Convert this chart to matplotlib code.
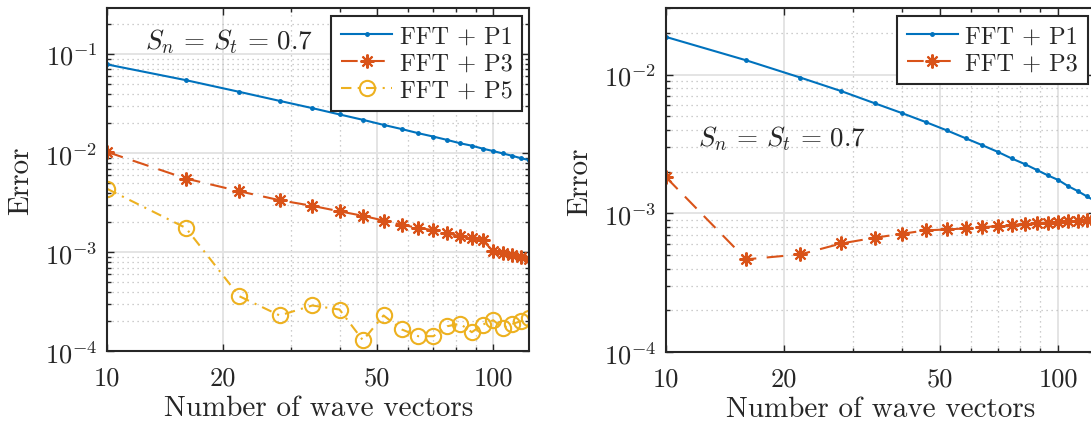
import math
import matplotlib
matplotlib.use('Agg')
import matplotlib.pyplot as plt
from matplotlib.ticker import FixedLocator, LogLocator, NullFormatter, FuncFormatter

# Données
n_waves = [10, 16, 22, 28, 34, 40, 46, 52, 58, 64, 70, 76, 82, 88, 94, 100, 106, 112, 118, 124]

left_p1 = [0.0787, 0.0546, 0.0416, 0.0337, 0.0285, 0.0246, 0.0217, 0.0193, 0.0175, 0.0159,
           0.0147, 0.0136, 0.0126, 0.0119, 0.0111, 0.0105, 0.00993, 0.0094, 0.0089, 0.0085]
left_p3 = [0.0103, 0.00555, 0.00413, 0.00335, 0.00294, 0.00259, 0.00233, 0.00209, 0.00189, 0.00176,
           0.00167, 0.00156, 0.00145, 0.00138, 0.00132, 0.00102, 0.00098, 0.00093, 0.00090, 0.00086]
left_p5 = [0.00437, 0.00176, 0.00036, 0.00023, 0.00029, 0.000264, 0.000129, 0.00023, 0.000166, 0.000142,
           0.000142, 0.000179, 0.00019, 0.000156, 0.000186, 0.000206, 0.000172, 0.000189, 0.000201, 0.000217]

right_p1 = [0.01866, 0.01267, 0.00951, 0.00759, 0.00622, 0.00527, 0.00454, 0.00396, 0.00348, 0.0031,
            0.00278, 0.00249, 0.00227, 0.00206, 0.00188, 0.00174, 0.00157, 0.00145, 0.00133, 0.00123]
right_p3 = [0.001824, 0.000467, 0.000507, 0.000608, 0.000668, 0.000714, 0.000755, 0.000767, 0.00078, 0.000796,
            0.00081, 0.000824, 0.000843, 0.000851, 0.00086, 0.00087, 0.000875, 0.00088, 0.00089, 0.0009]

x_ticks = [10, 20, 50, 100]
labels = ['FFT + P1', 'FFT + P3', 'FFT + P5']
note = r'$S_n \,=\, S_t \,=\, 0.7$'

# Couleurs style MATLAB
blue, orange, yellow = '#0072BD', '#D95319', '#EDB120'
dark = '#262626'

plt.rcParams['font.family'] = 'serif'
plt.rcParams['font.serif'] = ['cmr10']
plt.rcParams['mathtext.fontset'] = 'cm'
plt.rcParams['axes.formatter.use_mathtext'] = True

W, H = 1091, 427
fig = plt.figure(figsize=(W / 100, H / 100), dpi=100)
ax1 = fig.add_axes([107.0 / W, (H - 352.3) / H, 422.3 / W, 343.0 / H])
ax2 = fig.add_axes([666.0 / W, (H - 353.3) / H, 429.0 / W, 344.0 / H])

star = (8, 2, 0)


def style_axes(ax, ylim):
    ax.set_xscale('log')
    ax.set_yscale('log')
    ax.set_xlim(10, 124)
    ax.set_ylim(*ylim)
    ax.xaxis.set_major_locator(FixedLocator(x_ticks))
    ax.xaxis.set_major_formatter(FuncFormatter(lambda v, p: '%d' % round(v)))
    ax.xaxis.set_minor_locator(LogLocator(base=10, subs=range(2, 10), numticks=20))
    ax.xaxis.set_minor_formatter(NullFormatter())
    ax.yaxis.set_major_locator(LogLocator(base=10, numticks=20))
    ax.yaxis.set_major_formatter(FuncFormatter(lambda v, p: r'$10^{%d}$' % round(math.log10(v))))
    ax.yaxis.set_minor_locator(LogLocator(base=10, subs=range(2, 10), numticks=20))
    ax.yaxis.set_minor_formatter(NullFormatter())
    ax.set_axisbelow(True)
    ax.grid(True, which='major', color='#e2e2e2', lw=1.3, ls='-')
    ax.grid(True, which='minor', color='#bdbdbd', lw=0.9, ls=(0, (1, 3)))
    ax.tick_params(which='both', direction='in', top=True, right=True, colors=dark,
                   labelsize=19, width=1.0)
    ax.tick_params(which='major', length=5)
    ax.tick_params(axis='x', which='major', pad=10.5)
    ax.tick_params(axis='y', which='major', pad=7)
    ax.tick_params(which='minor', length=3)
    for s in ax.spines.values():
        s.set_color(dark)
        s.set_linewidth(1.5)
    ax.set_xlabel('Number of wave vectors', fontsize=21, color=dark, labelpad=3.5)
    ax.set_ylabel('Error', fontsize=21, color=dark, labelpad=7.5)


def add_legend(ax):
    leg = ax.legend(loc='upper right', fontsize=17.5, fancybox=False, framealpha=1, edgecolor=dark,
                    handlelength=2.1, borderaxespad=0.3, labelspacing=0.2, handletextpad=0.3,
                    borderpad=0.4)
    leg.get_frame().set_linewidth(1.5)
    for t in leg.get_texts():
        t.set_color(dark)


# Panneau gauche
style_axes(ax1, (1e-4, 0.29))
ax1.plot(n_waves, left_p1, color=blue, lw=1.5, marker='.', ms=5, label=labels[0])
ax1.plot(n_waves, left_p3, color=orange, lw=1.5, marker=star, ms=10, mew=1.5,
         dashes=(8, 5), label=labels[1])
ax1.plot(n_waves, left_p5, color=yellow, lw=1.5, marker='o', ms=11, mew=1.5, mfc='none',
         dashes=(5, 3, 1, 3), label=labels[2])
ax1.text(0.29, 0.905, note, transform=ax1.transAxes, fontsize=19.5, ha='center', va='center', color=dark)
add_legend(ax1)

# Panneau droit
style_axes(ax2, (1e-4, 0.03))
ax2.plot(n_waves, right_p1, color=blue, lw=1.5, marker='.', ms=5, label=labels[0])
ax2.plot(n_waves, right_p3, color=orange, lw=1.5, marker=star, ms=10, mew=1.5,
         dashes=(8, 5), label=labels[1])
ax2.text(0.27, 0.625, note, transform=ax2.transAxes, fontsize=19.5, ha='center', va='center', color=dark)
add_legend(ax2)

fig.savefig('out.png', dpi=100)
